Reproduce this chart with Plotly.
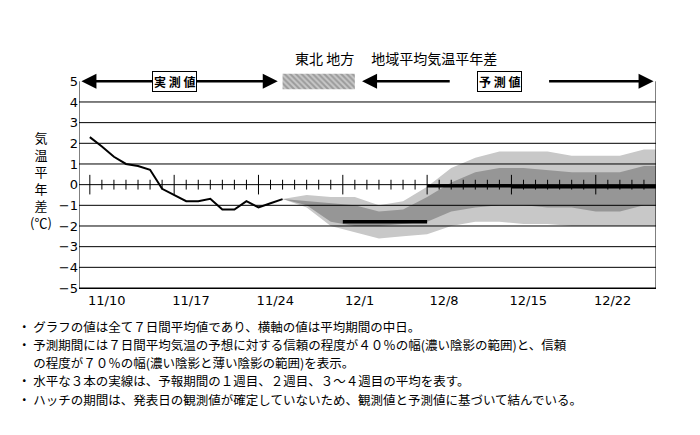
import plotly.graph_objects as go

# day index 0 = 11/10
obs_days = list(range(0, 17))
obs_vals = [2.3, 1.85, 1.35, 1.0, 0.9, 0.72, -0.2, -0.5, -0.8, -0.8, -0.68, -1.2, -1.2, -0.8, -1.1, -0.9, -0.7]

band_days = [16, 18, 20, 22, 24, 26, 28, 30, 32, 34, 36, 38, 40, 42, 44, 46, 47]
light_up = [-0.7, -0.5, -0.6, -0.6, -1.0, -0.8, -0.1, 0.8, 1.3, 1.6, 1.6, 1.6, 1.4, 1.4, 1.4, 1.7, 1.7]
dark_up = [-0.7, -0.8, -0.9, -1.0, -1.3, -1.2, -0.6, 0.1, 0.6, 0.8, 0.8, 0.7, 0.6, 0.6, 0.6, 0.9, 0.9]
dark_lo = [-0.7, -1.0, -1.8, -2.0, -2.0, -1.9, -1.8, -1.3, -1.1, -1.0, -1.0, -1.1, -1.1, -1.3, -1.3, -1.0, -1.0]
light_lo = [-0.7, -1.1, -2.0, -2.3, -2.6, -2.5, -2.4, -2.0, -1.8, -1.8, -1.9, -1.9, -2.0, -2.0, -2.0, -2.0, -2.0]

week_starts = [21, 28, 35]
week_ends = [28, 35, 47]
week_vals = [-1.8, -0.05, -0.1]

tick_days = [0, 7, 14, 21, 28, 35, 42]
tick_labels = ["11/10", "11/17", "11/24", "12/1", "12/8", "12/15", "12/22"]
ytick_vals = [5, 4, 3, 2, 1, 0, -1, -2, -3, -4, -5]

X0, X1 = -0.9, 47.0
FONT = "Noto Sans CJK JP"
L, R, T, B = 71, 52, 64, 155
PH = 435 - T - B
PW = 700 - L - R
def px(x): return (x - L) / PW
def py(y): return (435 - B - y) / PH

fig = go.Figure()
fig.add_trace(go.Scatter(x=band_days, y=light_up, mode="lines", line=dict(width=0), showlegend=False, hoverinfo="skip"))
fig.add_trace(go.Scatter(x=band_days, y=light_lo, mode="lines", line=dict(width=0), fill="tonexty",
                         fillcolor="rgb(200,200,200)", showlegend=False, hoverinfo="skip"))
fig.add_trace(go.Scatter(x=band_days, y=dark_up, mode="lines", line=dict(width=0), showlegend=False, hoverinfo="skip"))
fig.add_trace(go.Scatter(x=band_days, y=dark_lo, mode="lines", line=dict(width=0), fill="tonexty",
                         fillcolor="rgb(150,150,150)", showlegend=False, hoverinfo="skip"))
fig.add_trace(go.Scatter(x=[X0, X1], y=[0, 0], mode="lines", line=dict(color="black", width=1), showlegend=False))
minor = [d for d in range(0, 47) if d % 7 != 0]
fig.add_trace(go.Scatter(x=minor, y=[0] * len(minor), mode="markers",
                         marker=dict(symbol="line-ns", size=7, line=dict(width=1, color="black")), showlegend=False))
fig.add_trace(go.Scatter(x=tick_days, y=[0] * len(tick_days), mode="markers",
                         marker=dict(symbol="line-ns", size=14, line=dict(width=1, color="black")), showlegend=False))
fig.add_trace(go.Scatter(x=obs_days, y=obs_vals, mode="lines", line=dict(color="black", width=2), showlegend=False))
for s, e, v in zip(week_starts, week_ends, week_vals):
    fig.add_trace(go.Scatter(x=[s, e], y=[v, v], mode="lines", line=dict(color="black", width=3.5), showlegend=False))
fig.add_trace(go.Bar(x=[19.0], y=[0.75], base=[4.62], width=[6.0], marker=dict(color="white",
                     pattern=dict(shape="\\", fgcolor="rgb(110,110,110)", bgcolor="rgb(200,200,200)", size=4, solidity=0.5),
                     line=dict(width=0)), showlegend=False, hoverinfo="skip"))

shapes = []
for v in ytick_vals:
    if v not in (0, 5):
        shapes.append(dict(type="line", x0=X0, x1=X1, y0=v, y1=v, line=dict(color="black", width=1), layer="above"))
shapes.append(dict(type="line", x0=X0, x1=X0, y0=-5, y1=5, line=dict(color="black", width=1)))
shapes.append(dict(type="line", x0=X1, x1=X1, y0=-5, y1=5, line=dict(color="black", width=1)))

ann = []
def arrow(x_from, x_to):
    ann.append(dict(x=x_to, y=5, ax=x_from, ay=5, axref="x", ayref="y", xref="x", yref="y", text="",
                    showarrow=True, arrowhead=2, arrowsize=1.2, arrowwidth=2.5, arrowcolor="black"))
arrow(6.0, X0 + 0.2); arrow(8.0, 15.6); arrow(30.0, 22.6); arrow(38.0, X1 - 0.2)
for xc, t in [(7.0, "実 測 値"), (34.0, "予 測 値")]:
    ann.append(dict(x=xc, y=5, xref="x", yref="y", text="<b>" + t + "</b>", showarrow=False, bgcolor="white",
                    bordercolor="black", borderwidth=1, borderpad=1, font=dict(size=12, family=FONT, color="black")))
ann.append(dict(x=px(388), y=py(50), xref="paper", yref="paper", yanchor="middle", xanchor="center",
                text="東北 地方　 地域平均気温平年差", showarrow=False, font=dict(size=14, family=FONT, color="black")))
ann.append(dict(x=px(20), y=py(172), xref="paper", yref="paper", showarrow=False, yanchor="middle",
                text="気<br>温<br>平<br>年<br>差<br>(℃)", font=dict(size=13, family=FONT, color="black")))
notes = ["・ グラフの値は全て７日間平均値であり、横軸の値は平均期間の中日。",
         "・ 予測期間には７日間平均気温の予想に対する信頼の程度が４０％の幅(濃い陰影の範囲)と、信頼",
         "　 の程度が７０％の幅(濃い陰影と薄い陰影の範囲)を表示。",
         "・ 水平な３本の実線は、予報期間の１週目、２週目、３～４週目の平均を表す。",
         "・ ハッチの期間は、発表日の観測値が確定していないため、観測値と予測値に基づいて結んでいる。"]
for i, t in enumerate(notes):
    ann.append(dict(x=px(8), y=py(318 + i * 18.3), xref="paper", yref="paper", xanchor="left",
                    yanchor="middle", text=t, showarrow=False, font=dict(size=12.5, family=FONT, color="black")))

fig.update_layout(
    width=700, height=435, margin=dict(l=L, r=R, t=T, b=B),
    paper_bgcolor="white", plot_bgcolor="white", showlegend=False,
    shapes=shapes, annotations=ann,
    xaxis=dict(range=[X0, X1], tickvals=[d + 1.4 for d in tick_days], ticktext=tick_labels, showgrid=False,
               zeroline=False, showline=True, linecolor="black", ticks="",
               tickfont=dict(size=13, family="DejaVu Sans", color="black")),
    yaxis=dict(range=[-5, 5.45], tickvals=ytick_vals, showgrid=False, zeroline=False, showline=False, ticks="",
               tickfont=dict(size=13, family="DejaVu Sans", color="black")),
)
fig.write_html("out.html")
